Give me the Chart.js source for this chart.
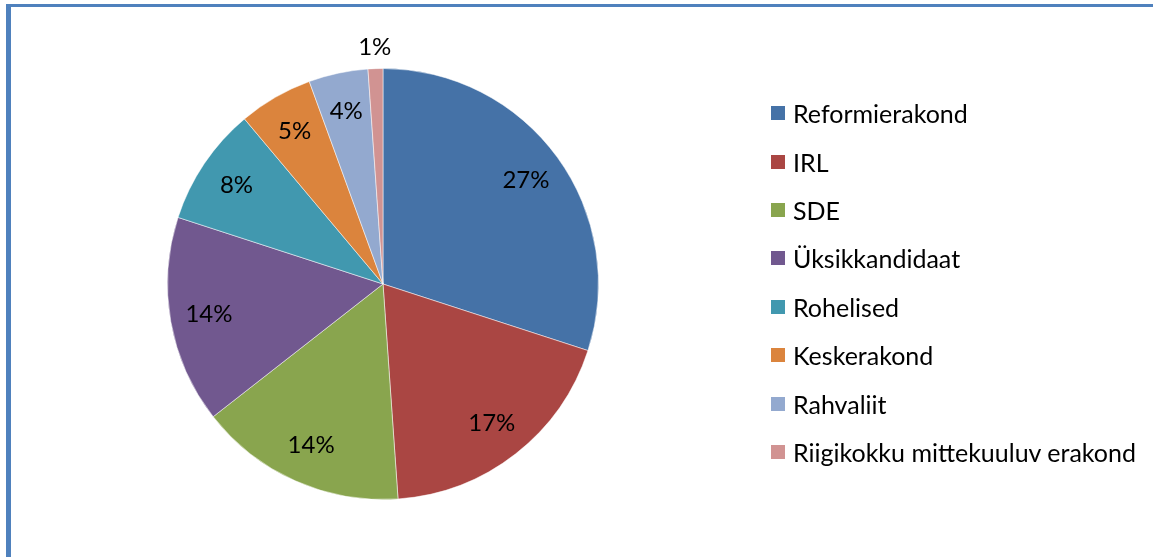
<!DOCTYPE html>
<html>
<head>
<meta charset="utf-8">
<script src="https://cdn.jsdelivr.net/npm/chart.js@4"></script>
<style>
  html, body { margin: 0; padding: 0; background: #fff; }
  #wrap { position: relative; width: 1153px; height: 557px; overflow: hidden; }
  #frame { position: absolute; left: 6px; top: 4px; width: 1200px; height: 600px;
           border-left: 5px solid #4F81BD; border-top: 3px solid #4F81BD; }
  canvas { position: absolute; left: 0; top: 0; }
  #legend { position: absolute; left: 771px; top: 89px; font-family: Lato, sans-serif;
            font-size: 25px; color: #000; }
  #legend .row { height: 48.4px; display: flex; align-items: center; white-space: nowrap; }
  #legend .box { width: 14px; height: 14px; margin-right: 8px; }
</style>
</head>
<body>
<div id="wrap">
  <div id="frame"></div>
  <canvas id="pie" width="1153" height="557"></canvas>
  <div id="legend"></div>
</div>
<script>
const parties = ["Reformierakond", "IRL", "SDE", "Üksikkandidaat", "Rohelised",
                 "Keskerakond", "Rahvaliit", "Riigikokku mittekuuluv erakond"];
const shares = [27, 17, 14, 14, 8, 5, 4, 1];
const colors = ["#4572A7", "#AA4643", "#89A54E", "#71588F", "#4198AF",
                "#DB843D", "#93A9CF", "#D19392"];

// percent labels: inside the slice, small slices go outside
const sliceLabels = {
    id: 'sliceLabels',
    afterDatasetsDraw(chart) {
        const ctx = chart.ctx;
        const meta = chart.getDatasetMeta(0);
        ctx.save();
        ctx.font = "24px Lato";
        ctx.fillStyle = "#000";
        ctx.textAlign = "center";
        ctx.textBaseline = "middle";
        meta.data.forEach((arc, i) => {
            const p = arc.getProps(['x', 'y', 'startAngle', 'endAngle', 'outerRadius'], true);
            const mid = (p.startAngle + p.endAngle) / 2;
            const small = (p.endAngle - p.startAngle) < 0.15;
            const d = small ? p.outerRadius + 21 : p.outerRadius * 0.82;
            ctx.fillText(chart.data.datasets[0].data[i] + "%", p.x + Math.cos(mid) * d, p.y + Math.sin(mid) * d);
        });
        ctx.restore();
    }
};

new Chart(document.getElementById("pie"), {
    type: 'pie',
    data: {
        labels: parties,
        datasets: [{
            backgroundColor: colors,
            borderColor: "rgba(255,255,255,0.5)",
            borderWidth: 1,
            data: shares
        }]
    },
    options: {
        responsive: false,
        animation: false,
        layout: {
            padding: { left: 167, right: 554, top: 68, bottom: 57 }
        },
        plugins: {
            legend: { display: false },
            tooltip: { enabled: false }
        }
    },
    plugins: [sliceLabels]
});

const legend = document.getElementById("legend");
parties.forEach((name, i) => {
    const row = document.createElement("div");
    row.className = "row";
    const box = document.createElement("span");
    box.className = "box";
    box.style.background = colors[i];
    const txt = document.createElement("span");
    txt.textContent = name;
    row.appendChild(box);
    row.appendChild(txt);
    legend.appendChild(row);
});
</script>
</body>
</html>
